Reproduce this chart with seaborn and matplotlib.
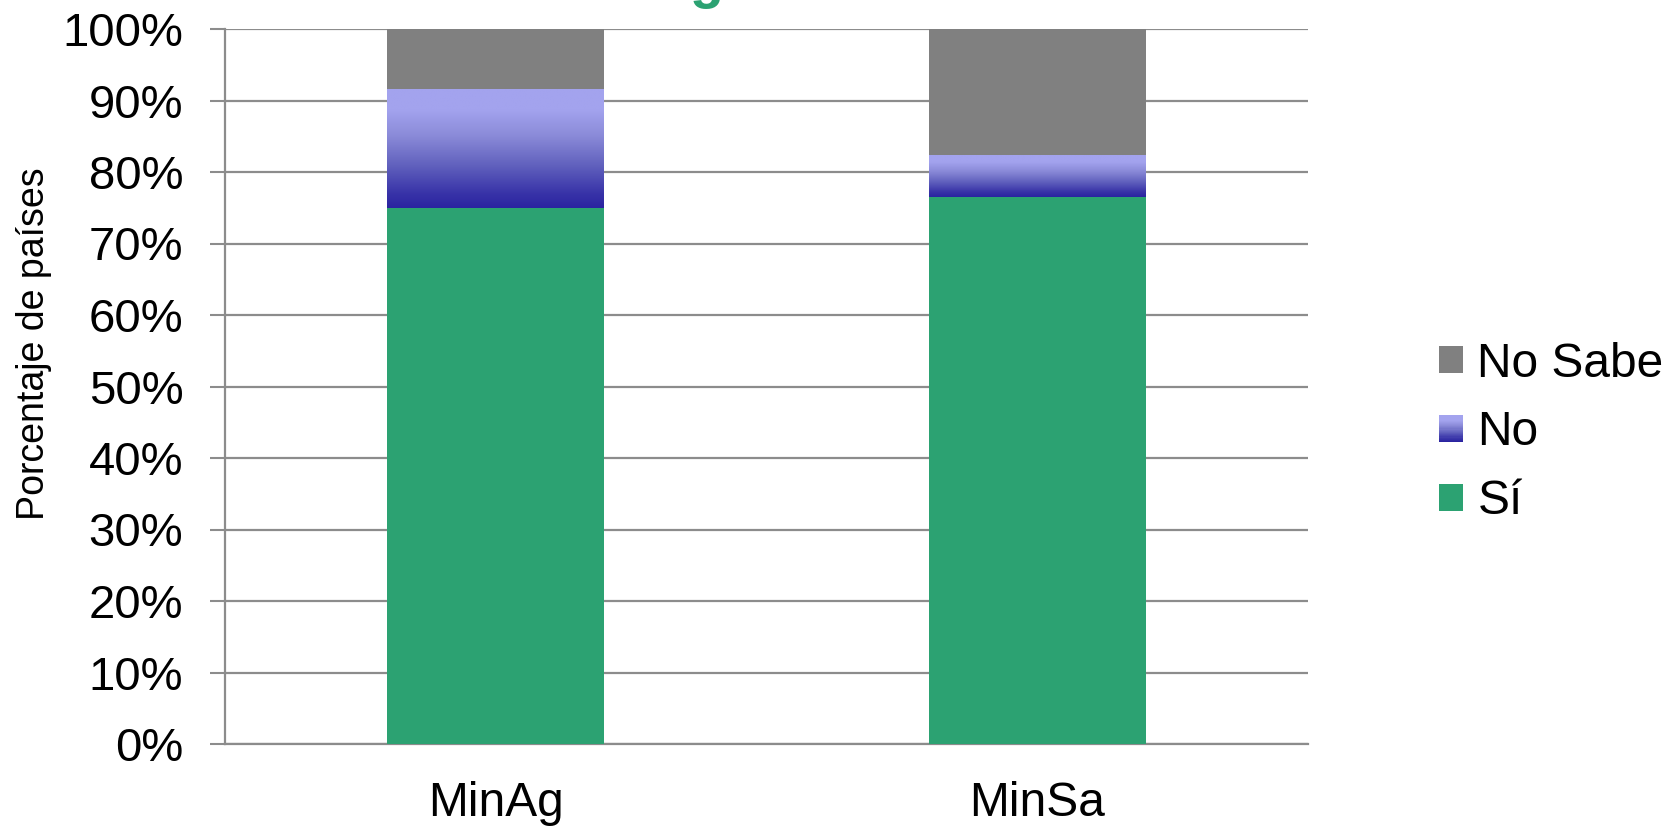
import numpy as np
import pandas as pd
import matplotlib
matplotlib.use('Agg')
import matplotlib.pyplot as plt
import seaborn as sns
from matplotlib.patches import Rectangle
from matplotlib.legend_handler import HandlerBase
from matplotlib.colors import LinearSegmentedColormap
from matplotlib.ticker import FuncFormatter

# Data (share of countries, %)
categories = ['MinAg', 'MinSa']
si_vals = [75.0, 76.47]
no_vals = [16.67, 5.88]
nosabe_vals = [8.33, 17.65]
legend_labels = ['No Sabe', 'No', 'Sí']

GREEN = '#2ca272'
GRAY = '#808080'
AXIS_GRAY = '#8c8c8c'

sns.set_theme(style='white')
plt.rcParams['font.family'] = ['Liberation Sans', 'DejaVu Sans']
plt.rcParams['text.color'] = 'black'

df = pd.DataFrame({'cat': categories, 'si': si_vals, 'no': no_vals, 'nosabe': nosabe_vals})
df['si_no'] = df['si'] + df['no']
df['total'] = df['si_no'] + df['nosabe']

fig = plt.figure(figsize=(16.75, 8.27), dpi=100)
ax = fig.add_axes([225 / 1675, 83 / 827, 1083 / 1675, 715 / 827])

bar_kw = dict(width=0.4, saturation=1, errorbar=None, ax=ax, linewidth=0)
# stacked bars drawn back to front
sns.barplot(data=df, x='cat', y='total', color=GRAY, zorder=2, **bar_kw)
sns.barplot(data=df, x='cat', y='si_no', color='#2a23a0', zorder=3, **bar_kw)
mid_patches = list(ax.patches[len(categories):2 * len(categories)])
sns.barplot(data=df, x='cat', y='si', color=GREEN, zorder=5, **bar_kw)

# gradient fill for the "No" segment (dark at bottom, light at top)
cmap = LinearSegmentedColormap.from_list('no_grad', [
    (0.0, '#2a23a0'), (0.12, '#3833a8'), (0.35, '#6060bd'),
    (0.6, '#8a8ad8'), (0.82, '#a3a3ee'), (1.0, '#a3a3ee')])
grad = np.linspace(0, 1, 256).reshape(-1, 1)
for p, lo, hi in zip(mid_patches, df['si'], df['si_no']):
    x0 = p.get_x()
    im = ax.imshow(grad, extent=[x0, x0 + p.get_width(), lo, hi], origin='lower',
                   cmap=cmap, aspect='auto', zorder=4, interpolation='bilinear')
    im.set_clip_path(p)

ax.set_xlim(-0.5, 1.5)
ax.set_ylim(0, 100)
ax.set_yticks(np.arange(0, 101, 10))
ax.yaxis.set_major_formatter(FuncFormatter(lambda v, _: f'{v:.0f}%'))
ax.yaxis.grid(True, color=AXIS_GRAY, linewidth=1.6, zorder=0)
ax.set_axisbelow(True)
ax.set_xlabel('')
ax.set_ylabel('')

ax.set_xticks([-0.5, 0.5, 1.5], minor=True)
ax.tick_params(axis='x', which='major', length=0, pad=27, labelsize=34.5, labelcolor='black')
ax.tick_params(axis='x', which='minor', length=11, width=1.5, color=AXIS_GRAY, direction='out')
ax.tick_params(axis='y', length=11, width=1.5, color=AXIS_GRAY, pad=19, labelsize=34,
               labelcolor='black', direction='out', left=True)
for side in ['top', 'right']:
    ax.spines[side].set_visible(False)
for side in ['left', 'bottom']:
    ax.spines[side].set_color(AXIS_GRAY)
    ax.spines[side].set_linewidth(1.6)

fig.text(34 / 1675, 1 - 344 / 827, 'Porcentaje de países', rotation=90,
         ha='center', va='center', fontsize=27, color='black')

# green title fragment at the very top edge
fig.text(707 / 1675, 1.0 + 3 / 827, 'g', color=GREEN, fontsize=40, fontweight='bold',
         ha='center', va='baseline')


class GradientHandler(HandlerBase):
    def create_artists(self, legend, orig_handle, xdescent, ydescent, width, height, fontsize, trans):
        n = 24
        arts = []
        for i in range(n):
            c = cmap(i / (n - 1))
            arts.append(Rectangle((-xdescent, -ydescent + height * i / n), width, height / n + 0.2,
                                  facecolor=c, edgecolor='none', linewidth=0, transform=trans))
        return arts


h_nosabe = Rectangle((0, 0), 1, 1, facecolor=GRAY, edgecolor='none', linewidth=0)
h_no = Rectangle((0, 0), 1, 1, facecolor='#6060bd', edgecolor='none', linewidth=0)
h_si = Rectangle((0, 0), 1, 1, facecolor=GREEN, edgecolor='none', linewidth=0)
fig.legend([h_nosabe, h_no, h_si], legend_labels, handler_map={h_no: GradientHandler()},
           loc='center left', bbox_to_anchor=(1439 / 1675, 1 - 433 / 827), frameon=False,
           fontsize=34.5, handlelength=0.5, handleheight=0.5, handletextpad=0.3,
           labelspacing=0.5, borderpad=0, borderaxespad=0, labelcolor='black')

fig.savefig('out.png', dpi=100)
